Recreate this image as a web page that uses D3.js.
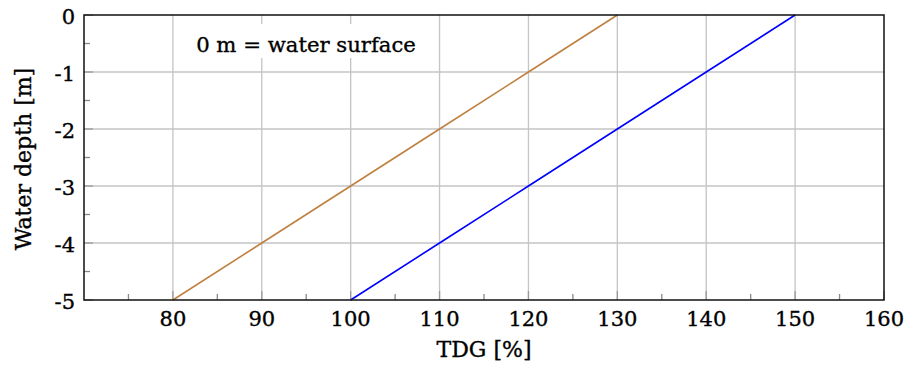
<!DOCTYPE html>
<html><head><meta charset="utf-8">
<script src="https://cdn.jsdelivr.net/npm/d3@7"></script>
<style>body{margin:0;background:#fff}svg{display:block}text{font-family:"DejaVu Serif",serif;fill:#000;stroke:#000;stroke-width:0.35px}</style>
</head><body><svg id="c" width="906" height="365"></svg>
<script>
const depths = [0, -1, -2, -3, -4, -5];
const tdgBrown = [130, 120, 110, 100, 90, 80];
const tdgBlue = [150, 140, 130, 120, 110, 100];
const xTicks = [80, 90, 100, 110, 120, 130, 140, 150, 160];
const xMinor = [75, 85, 95, 105, 115, 125, 135, 145, 155];
const yTicks = [0, -1, -2, -3, -4, -5];
const yMinor = [-0.5, -1.5, -2.5, -3.5, -4.5];
const annotation = "0 m = water surface";

const svg = d3.select("#c");
const L = 84, R = 884, T = 15, B = 300;
const x = d3.scaleLinear().domain([70, 160]).range([L, R]);
const y = d3.scaleLinear().domain([-5, 0]).range([B, T]);

const g = svg.append("g");
// grid
g.selectAll(".gx").data(xTicks.filter(d => d < 160)).enter().append("line")
  .attr("x1", d => x(d)).attr("x2", d => x(d)).attr("y1", T).attr("y2", B)
  .attr("stroke", "#c4c4c4").attr("stroke-width", 1.3);
g.selectAll(".gy").data(yTicks.filter(d => d > -5 && d < 0)).enter().append("line")
  .attr("y1", d => y(d)).attr("y2", d => y(d)).attr("x1", L).attr("x2", R)
  .attr("stroke", "#c4c4c4").attr("stroke-width", 1.3);
// major tick marks (inside)
g.selectAll(".mx").data(xTicks).enter().append("line")
  .attr("x1", d => x(d)).attr("x2", d => x(d)).attr("y1", B).attr("y2", B - 9)
  .attr("stroke", "#999").attr("stroke-width", 1.3);
g.selectAll(".my").data(yTicks).enter().append("line")
  .attr("y1", d => y(d)).attr("y2", d => y(d)).attr("x1", L).attr("x2", L + 9)
  .attr("stroke", "#999").attr("stroke-width", 1.3);
// minor ticks
g.selectAll(".nx").data(xMinor).enter().append("line")
  .attr("x1", d => x(d)).attr("x2", d => x(d)).attr("y1", B).attr("y2", B - 6)
  .attr("stroke", "#888").attr("stroke-width", 1.3);
g.selectAll(".ny").data(yMinor).enter().append("line")
  .attr("y1", d => y(d)).attr("y2", d => y(d)).attr("x1", L).attr("x2", L + 6)
  .attr("stroke", "#888").attr("stroke-width", 1.3);

// annotation box
const ann = g.append("g");
ann.append("rect").attr("x", 190).attr("y", 24).attr("width", 232).attr("height", 34).attr("fill", "#fff");
ann.append("text").attr("x", 306).attr("y", 52).attr("text-anchor", "middle")
  .attr("font-size", 21.2).text(annotation);

// lines
const line = d3.line().x(d => x(d[0])).y(d => y(d[1]));
g.append("path").datum(tdgBrown.map((v, i) => [v, depths[i]])).attr("d", line)
  .attr("fill", "none").attr("stroke", "#bf8040").attr("stroke-width", 1.6);
g.append("path").datum(tdgBlue.map((v, i) => [v, depths[i]])).attr("d", line)
  .attr("fill", "none").attr("stroke", "#0000ff").attr("stroke-width", 1.6);

// frame
g.append("rect").attr("x", L).attr("y", T).attr("width", R - L).attr("height", B - T)
  .attr("fill", "none").attr("stroke", "#111").attr("stroke-width", 1.5);

// tick labels
g.selectAll(".lx").data(xTicks).enter().append("text")
  .attr("x", d => x(d)).attr("y", 326).attr("text-anchor", "middle")
  .attr("font-size", 21).text(d => d);
g.selectAll(".ly").data(yTicks).enter().append("text")
  .attr("x", 75).attr("y", d => y(d) + 9).attr("text-anchor", "end")
  .attr("font-size", 21).text(d => d);

// axis titles
g.append("text").attr("x", 484).attr("y", 357).attr("text-anchor", "middle")
  .attr("font-size", 22).text("TDG [%]");
g.append("text").attr("transform", `translate(31,159) rotate(-90)`).attr("text-anchor", "middle")
  .attr("font-size", 22).text("Water depth [m]");
</script></body></html>
